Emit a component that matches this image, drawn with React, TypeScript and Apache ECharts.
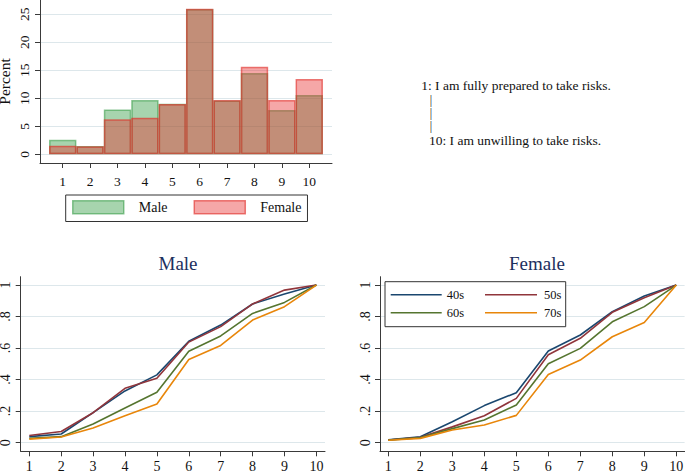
import React, { useEffect, useRef } from "react";
import * as echarts from "echarts";

// ---------- data ----------
const scores = [1, 2, 3, 4, 5, 6, 7, 8, 9, 10];
const malePct = [2.6, 1.5, 8.0, 9.7, 9.05, 25.95, 9.6, 14.5, 7.9, 10.6];
const femalePct = [1.55, 1.45, 6.25, 6.55, 9.0, 26.0, 9.7, 15.65, 9.7, 13.45];
const histYTicks = [0, 5, 10, 15, 20, 25];
const cdfYTicks = [0, 0.2, 0.4, 0.6, 0.8, 1];
const ageGroups = ["40s", "50s", "60s", "70s"];
const maleCdf40 = [0.038, 0.055, 0.19, 0.328, 0.43, 0.643, 0.746, 0.88, 0.943, 1];
const maleCdf50 = [0.045, 0.071, 0.19, 0.345, 0.408, 0.638, 0.736, 0.88, 0.968, 1];
const maleCdf60 = [0.027, 0.038, 0.118, 0.22, 0.32, 0.58, 0.677, 0.82, 0.89, 1];
const maleCdf70 = [0.022, 0.036, 0.093, 0.17, 0.245, 0.528, 0.617, 0.778, 0.863, 1];
const femaleCdf40 = [0.018, 0.037, 0.133, 0.235, 0.317, 0.581, 0.683, 0.831, 0.93, 1];
const femaleCdf50 = [0.017, 0.034, 0.1, 0.171, 0.281, 0.558, 0.662, 0.827, 0.92, 1];
const femaleCdf60 = [0.016, 0.032, 0.089, 0.144, 0.239, 0.5, 0.598, 0.767, 0.863, 1];
const femaleCdf70 = [0.015, 0.027, 0.08, 0.112, 0.173, 0.433, 0.524, 0.672, 0.763, 1];
const annotationTop = "1: I am fully prepared to take risks.";
const annotationBottom = "10: I am unwilling to take risks.";

// ---------- style ----------
const FONT = "'Liberation Serif', 'Times New Roman', serif";
const AXIS = "#3a3a3a";
const GRIDC = "#dde7eb";
const TXT = "#111111";
const ageColors = ["#1a476f", "#90353b", "#55752f", "#e8860a"];
const maleFill = "rgba(46,152,62,0.42)";
const maleLine = "rgba(46,152,62,0.55)";
const femaleFill = "rgba(232,45,45,0.42)";
const femaleLine = "rgba(225,45,40,0.62)";

function yAxisDef(gridIndex: number, min: number, max: number, ticks: number[], fontSize: number, margin: number, fmt: (v: number) => string, extra: any = {}) {
  return {
    type: "value",
    gridIndex,
    min,
    max,
    axisLine: { show: true, lineStyle: { color: AXIS, width: 1 } },
    axisTick: { show: true, length: 5, customValues: ticks, lineStyle: { color: AXIS, width: 1 } },
    axisLabel: { customValues: ticks, rotate: 90, align: "center", verticalAlign: "bottom", margin, fontFamily: FONT, fontSize, color: TXT, formatter: fmt },
    splitLine: { show: true, lineStyle: { color: GRIDC, width: 1 } },
    ...extra,
  };
}

function xAxisDef(gridIndex: number, min: number, max: number, fontSize: number, margin: number) {
  return {
    type: "value",
    gridIndex,
    min,
    max,
    axisLine: { show: true, onZero: false, lineStyle: { color: AXIS, width: 1 } },
    axisTick: { show: true, length: 5, customValues: scores, lineStyle: { color: AXIS, width: 1 } },
    axisLabel: { customValues: scores, margin, fontFamily: FONT, fontSize, color: TXT, formatter: (v: number) => String(v) },
    splitLine: { show: false },
  };
}

const cdfFmt = (v: number) => (v === 0 ? "0" : v === 1 ? "1" : "." + Math.round(v * 10));

function cdfLine(name: string, vals: number[], color: string, idx: number) {
  return {
    type: "line",
    name,
    xAxisIndex: idx,
    yAxisIndex: idx,
    symbol: "none",
    data: scores.map((s, i) => [s, vals[i]]),
    lineStyle: { color, width: 1.6 },
    itemStyle: { color },
  };
}

export default function App() {
  const ref = useRef<HTMLDivElement>(null);
  useEffect(() => {
    if (!ref.current) return;
    const chart = echarts.init(ref.current, null, { renderer: "svg" });
    const maleSets = [maleCdf40, maleCdf50, maleCdf60, maleCdf70];
    const femaleSets = [femaleCdf40, femaleCdf50, femaleCdf60, femaleCdf70];
    const bar = (y: number) => ({ type: "text", x: 431, y, style: { text: "|", fontFamily: FONT, fontSize: 12, fill: TXT, align: "center", verticalAlign: "middle" } });
    const option: any = {
      animation: false,
      backgroundColor: "#ffffff",
      textStyle: { fontFamily: FONT },
      title: [
        { text: "Male", left: 173, top: 248.5, textAlign: "center", textStyle: { fontFamily: FONT, fontSize: 19, fontWeight: "normal", color: "#1c2f5e" } },
        { text: "Female", left: 532, top: 248.5, textAlign: "center", textStyle: { fontFamily: FONT, fontSize: 19, fontWeight: "normal", color: "#1c2f5e" } },
      ],
      grid: [
        { left: 40, top: 0, width: 292, height: 163, containLabel: false, outerBoundsMode: "none" },
        { left: 20.7, top: 276.7, width: 304.3, height: 174.6, containLabel: false, outerBoundsMode: "none" },
        { left: 380, top: 276.7, width: 304.6, height: 174.6, containLabel: false, outerBoundsMode: "none" },
      ],
      xAxis: [
        xAxisDef(0, 0.171, 10.83, 13.5, 11),
        xAxisDef(1, 0.73, 10.27, 14, 8),
        xAxisDef(2, 0.74, 10.26, 14, 8),
      ],
      yAxis: [
        yAxisDef(0, -1.55, 27.55, histYTicks, 13.5, 9, (v: number) => String(v), {
          name: "Percent",
          nameLocation: "middle",
          nameGap: 28,
          nameTextStyle: { fontFamily: FONT, fontSize: 15.5, color: TXT },
        }),
        yAxisDef(1, -0.055, 1.053, cdfYTicks, 14, 8, cdfFmt),
        yAxisDef(2, -0.055, 1.053, cdfYTicks, 14, 8, cdfFmt),
      ],
      legend: [
        {
          left: 65.7,
          top: 195,
          orient: "horizontal",
          padding: [5, 6, 7, 6.3],
          itemGap: 26,
          itemWidth: 51,
          itemHeight: 13,
          icon: "rect",
          borderColor: "#333333",
          borderWidth: 1,
          backgroundColor: "#ffffff",
          textStyle: { fontFamily: FONT, fontSize: 14, color: TXT, padding: [0, 0, 0, 10], lineHeight: 13 },
          data: [
            { name: "Male", itemStyle: { color: maleFill, borderColor: maleLine, borderWidth: 1.5 } },
            { name: "Female", itemStyle: { color: femaleFill, borderColor: femaleLine, borderWidth: 1.5 } },
          ],
        },
        {
          left: 385,
          top: 281.7,
          orient: "vertical",
          padding: [6.6, 99, 7.4, 5.7],
          itemGap: 5,
          itemWidth: 51,
          itemHeight: 1.6,
          icon: "rect",
          borderColor: "#333333",
          borderWidth: 1,
          backgroundColor: "#ffffff",
          z: 4,
          textStyle: { fontFamily: FONT, fontSize: 12.5, color: TXT, lineHeight: 10, width: 20 },
          data: [ageGroups[0], ageGroups[2]],
        },
        {
          left: 485,
          top: 288.3,
          orient: "vertical",
          padding: 0,
          itemGap: 5,
          itemWidth: 52,
          itemHeight: 1.6,
          icon: "rect",
          z: 5,
          textStyle: { fontFamily: FONT, fontSize: 12.5, color: TXT, lineHeight: 10, padding: [0, 0, 0, 2] },
          data: [ageGroups[1], ageGroups[3]],
        },
      ],
      graphic: [
        { type: "text", x: 516, y: 85, style: { text: annotationTop, fontFamily: FONT, fontSize: 13.5, fill: TXT, align: "center", verticalAlign: "middle" } },
        bar(100),
        bar(113),
        bar(126),
        { type: "text", x: 515, y: 140, style: { text: annotationBottom, fontFamily: FONT, fontSize: 13.5, fill: TXT, align: "center", verticalAlign: "middle" } },
      ],
      series: [
        {
          type: "bar",
          name: "Male",
          xAxisIndex: 0,
          yAxisIndex: 0,
          barWidth: 27.4,
          barGap: "-100%",
          data: scores.map((s, i) => [s, malePct[i]]),
          itemStyle: { color: maleFill, borderColor: maleLine, borderWidth: 1.5 },
        },
        {
          type: "bar",
          name: "Female",
          xAxisIndex: 0,
          yAxisIndex: 0,
          barWidth: 27.4,
          barGap: "-100%",
          data: scores.map((s, i) => [s, femalePct[i]]),
          itemStyle: { color: femaleFill, borderColor: femaleLine, borderWidth: 1.5 },
        },
        ...maleSets.map((d, k) => cdfLine(ageGroups[k], d, ageColors[k], 1)),
        ...femaleSets.map((d, k) => cdfLine(ageGroups[k], d, ageColors[k], 2)),
      ],
    };
    chart.setOption(option);
    return () => chart.dispose();
  }, []);
  return <div ref={ref} style={{ position: "absolute", left: 0, top: 0, width: 685, height: 472 }} />;
}
